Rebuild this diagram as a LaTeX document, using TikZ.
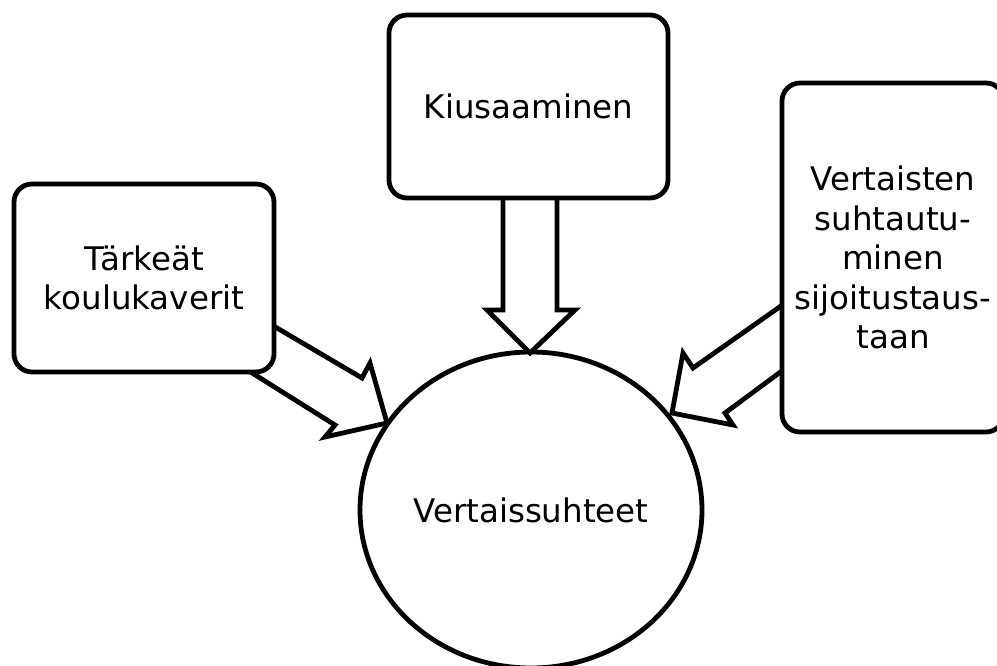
\documentclass[tikz,border=0pt]{standalone}
\usepackage{fontspec}
\setmainfont{DejaVu Sans}
\usetikzlibrary{shapes.geometric}
\tikzset{
  lw/.style={line width=4.8pt},
  boxnode/.style={lw, draw=black, fill=white, rounded corners=18pt, align=center, inner sep=0pt,
    font=\fontsize{32.5}{39.5}\selectfont},
  blockarrow/.style={lw, draw=black, fill=white, line join=miter},
  circnode/.style={lw, draw=black, fill=white, ellipse, inner sep=0pt,
    minimum width=342pt, minimum height=316pt, font=\fontsize{32.5}{39.5}\selectfont}
}
\begin{document}
\begin{tikzpicture}[x=1pt,y=-1pt]
\clip (0,0) rectangle (997,666);
\fill[white] (0,0) rectangle (997,666);
% central ellipse
\node[circnode] (c) at (531,510) {Vertaissuhteet};
% anchor points of the block arrows
\coordinate (tA1) at (503,180);
\coordinate (tA2) at (557,180);
\coordinate (tTip) at (530,353);
\coordinate (lA1) at (260,318);
\coordinate (lA2) at (233,361);
\coordinate (lTip) at (387,423);
\coordinate (rA1) at (798,294);
\coordinate (rA2) at (798,359);
\coordinate (rTip) at (672,413);
% block arrows
\draw[blockarrow] (tA1) -- (503,310) -- (487,310) -- (tTip) -- (575,310) -- (557,310) -- (tA2) -- cycle;
\draw[blockarrow] (lA1) -- (362,378) -- (370,363) -- (lTip) -- (325,437) -- (335,425) -- (lA2) -- cycle;
\draw[blockarrow] (rA1) -- (693,368) -- (683,353) -- (rTip) -- (733,425) -- (725,413) -- (rA2) -- cycle;
% boxes
\node[boxnode, minimum width=260pt, minimum height=188pt] (l) at (144,278) {Tärkeät\\koulukaverit};
\node[boxnode, minimum width=279pt, minimum height=183pt] (t) at (528.5,106.5) {Kiusaaminen};
\node[boxnode, minimum width=222pt, minimum height=349pt, text width=220pt] (r) at (893,257.5)
  {Vertaisten\\suhtautu-\\minen\\sijoitustaus-\\taan};
\end{tikzpicture}
\end{document}
